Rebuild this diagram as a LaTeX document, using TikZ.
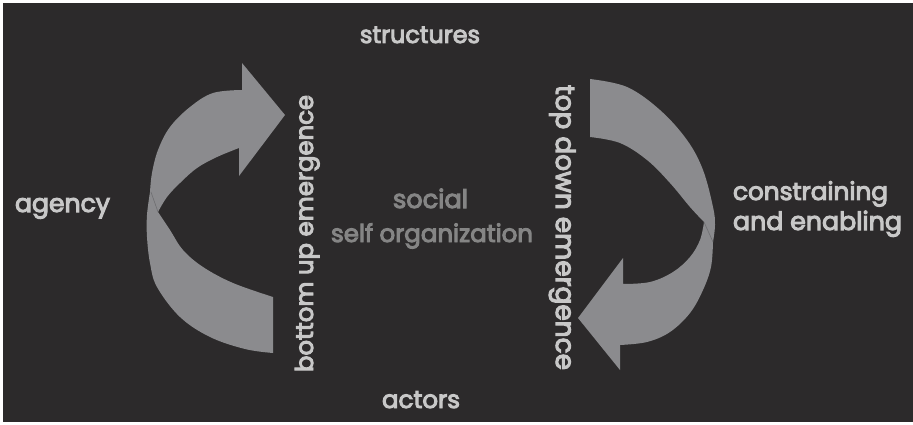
\documentclass[tikz,border=0pt]{standalone}
\usepackage{fontspec}
\setmainfont{Poppins}[RawFeature={embolden=4}]
\usepackage{graphicx}
\definecolor{bg}{HTML}{2C2A2B}
\definecolor{arrowgray}{HTML}{8B8B8E}
\definecolor{seam}{HTML}{6E6E71}
\definecolor{lighttxt}{HTML}{C8C8C8}
\definecolor{midtxt}{HTML}{858585}
\newcommand{\fitw}[2]{\resizebox{#1pt}{!}{\fontsize{20}{24}\selectfont #2}}
\tikzset{
  lbl/.style={inner sep=0pt, outer sep=0pt, text=lighttxt, anchor=base west},
  midlbl/.style={lbl, text=midtxt},
  ribbon/.style={fill=arrowgray, draw=none},
  seamline/.style={draw=seam, line width=0.6pt}
}
\begin{document}
\begin{tikzpicture}[x=1pt, y=-1pt]
\useasboundingbox (0,0) rectangle (913,425);
\fill[white] (0,0) rectangle (913,425);
\fill[bg] (3,3) rectangle (913,422);

% left arrow (bottom up)
\coordinate (lTailB) at (273,353);
\coordinate (lTailT) at (273,297);
\coordinate (lSeamI) at (158,212);
\coordinate (lSeamO) at (151,192);
\coordinate (lHeadTop) at (242,63);
\coordinate (lHeadTip) at (285,115);
\coordinate (lHeadBot) at (239,176);
\path[ribbon] (lTailB) -- (lTailT)
  -- plot[smooth, tension=0.6] coordinates {(273,297) (233,283) (203,267) (183,250) (170,230) (158,212)}
  -- plot[smooth, tension=0.6] coordinates {(158,212) (167,197) (180,183) (197,168) (217,157) (239,148)}
  -- (lHeadBot) -- (lHeadTip) -- (lHeadTop) -- (242,90)
  -- plot[smooth, tension=0.6] coordinates {(242,90) (213,93) (190,107) (170,127) (158,150) (152,173) (150,192)}
  -- plot[smooth, tension=0.6] coordinates {(150,192) (147,215) (147,237) (150,263) (157,287) (180,317) (210,337) (245,349) (273,353)}
  -- cycle;
\draw[seamline] (lSeamO) -- (lSeamI);

% right arrow (top down)
\coordinate (rTailT) at (590,79);
\coordinate (rTailB) at (590,137);
\coordinate (rSeamI) at (704,222);
\coordinate (rSeamO) at (713,242);
\coordinate (rHeadTop) at (623,258);
\coordinate (rHeadTip) at (578,318);
\coordinate (rHeadBot) at (620,370);
\path[ribbon] (rTailT) -- (rTailB)
  -- plot[smooth, tension=0.6] coordinates {(590,137) (620,143) (647,160) (670,183) (690,207) (704,222)}
  -- plot[smooth, tension=0.6] coordinates {(704,222) (700,240) (690,257) (673,272) (650,282) (623,284)}
  -- (rHeadTop) -- (rHeadTip) -- (rHeadBot) -- (620,345)
  -- plot[smooth, tension=0.6] coordinates {(620,345) (647,342) (670,332) (690,313) (703,290) (711,267) (713,242)}
  -- plot[smooth, tension=0.6] coordinates {(713,242) (715,225) (713,207) (703,170) (687,140) (660,110) (627,87) (590,79)}
  -- cycle;
\draw[seamline] (rSeamI) -- (rSeamO);

% labels
\node[lbl] (structures) at (360,43) {\fitw{120}{structures}};
\node[lbl] (agency) at (15,212) {\fitw{95}{agency}};
\node[midlbl] (social) at (393,208) {\fitw{75}{social}};
\node[midlbl] (selforg) at (331,242) {\fitw{202}{self organization}};
\node[lbl] (constr) at (733,200) {\fitw{155}{constraining}};
\node[lbl] (enabl) at (733,230) {\fitw{169}{and enabling}};
\node[lbl] (actors) at (382,408) {\fitw{78}{actors}};
\node[lbl, rotate=90] (bottomup) at (313,372) {\fitw{277}{bottom up emergence}};
\node[lbl, rotate=-90] (topdown) at (556,85) {\fitw{285}{top down emergence}};
\end{tikzpicture}
\end{document}
